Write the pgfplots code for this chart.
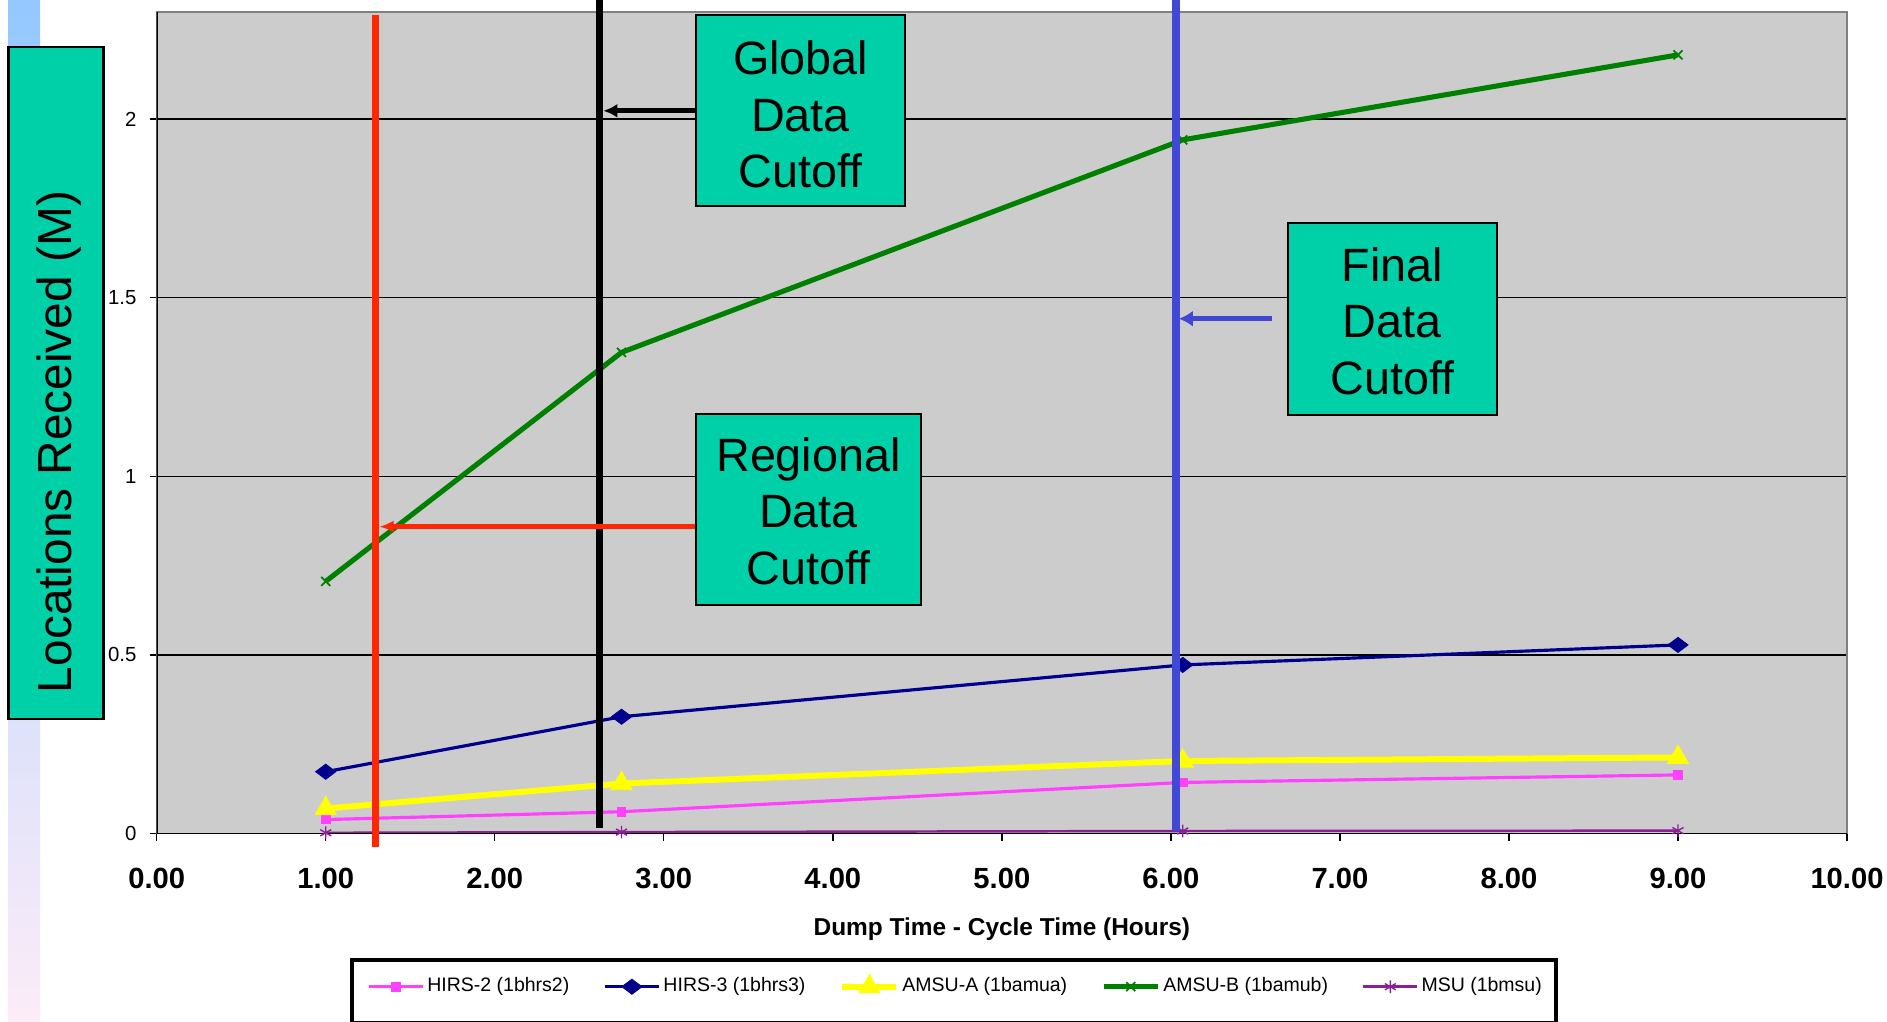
\documentclass[border=0pt]{standalone}
\usepackage{pgfplots}
\pgfplotsset{compat=1.18}
\usepackage{fontspec}
\setmainfont{Liberation Sans}
\usetikzlibrary{arrows.meta}
\definecolor{boxteal}{RGB}{0,208,168}
\definecolor{hirstwo}{RGB}{255,64,255}
\definecolor{hirsthree}{RGB}{0,0,140}
\definecolor{amsua}{RGB}{255,255,0}
\definecolor{amsub}{RGB}{0,128,0}
\definecolor{msu}{RGB}{140,30,150}
\definecolor{plotbg}{RGB}{204,204,204}
\definecolor{cutred}{RGB}{255,38,0}
\definecolor{cutblue}{RGB}{66,72,214}
\definecolor{striptop}{RGB}{148,200,255}
\definecolor{stripbot}{RGB}{252,236,248}
\begin{document}
\begin{tikzpicture}
\begin{scope}[x=0.1mm,y=-0.1mm]
\shade[top color=striptop,bottom color=stripbot] (8,0) rectangle (40,1021);
\draw[fill=boxteal,line width=0.75pt] (8.4,47) rectangle (103.8,719);
\end{scope}
\begin{axis}[
  at={(15.67mm,-83.35mm)}, anchor=south west,
  scale only axis, width=169.03mm, height=82.15mm,
  xmin=0, xmax=10, ymin=0, ymax=2.3,
  axis background/.style={fill=plotbg},
  axis line style={draw=gray, line width=0.5pt},
  ymajorgrids, grid style={black, line width=0.4pt},
  xtick={0,1,...,10}, ytick={0,0.5,1,1.5,2}, yticklabels={0,0.5,1,1.5,2},
  xtick pos=bottom, ytick pos=left,
  tick align=outside, major tick length=0.7mm, tick style={black, line width=0.4pt},
  /pgf/number format/assume math mode=true,
  xticklabel style={font=\fontsize{8.3}{10}\selectfont\bfseries, inner sep=0pt, anchor=north, yshift=-2.67mm,
     /pgf/number format/.cd, fixed, fixed zerofill, precision=2},
  yticklabel style={font=\fontsize{5.8}{7}\selectfont, inner sep=0pt, anchor=east, xshift=-1.26mm},
  xlabel={Dump Time - Cycle Time (Hours)},
  xlabel style={at={(axis description cs:0.5,0)}, anchor=center, yshift=-9.6mm, font=\fontsize{6.95}{8.3}\selectfont\bfseries},
  ylabel={Locations Received (M)},
  ylabel style={at={(axis description cs:-0.0578,0.4766)}, anchor=center, font=\fontsize{13.6}{16}\selectfont},
  legend style={at={(axis description cs:0.1241,-0.1865)}, anchor=west, draw=none, fill=none,
     font=\fontsize{5.55}{6.7}\selectfont, inner sep=0pt, nodes={inner sep=0.3mm},
     /tikz/every even column/.append style={column sep=3.1mm}},
  legend columns=5, legend cell align=left,
  legend image code/.code={\draw[mark repeat=2,mark phase=2,#1] plot coordinates {(0mm,0mm)(2.7mm,0mm)(5.4mm,0mm)};},
]
\addplot[color=hirstwo, line width=0.9pt, mark=square*, mark size=1.2pt, mark options={line width=0.2pt}] coordinates {(1,0.039) (2.75,0.061) (6.07,0.143) (9,0.164)};
\addlegendentry{HIRS-2 (1bhrs2)}
\addplot[color=hirsthree, line width=0.9pt, mark=diamond*, mark size=2.9pt, mark options={rotate=90, line width=0.2pt}] coordinates {(1,0.173) (2.75,0.327) (6.07,0.472) (9,0.528)};
\addlegendentry{HIRS-3 (1bhrs3)}
\addplot[color=amsua, line width=1.7pt, mark=triangle*, mark size=3.5pt, mark options={line width=0.2pt}] coordinates {(1,0.070) (2.75,0.140) (6.07,0.203) (9,0.213)};
\addlegendentry{AMSU-A (1bamua)}
\addplot[color=amsub, line width=1.45pt, mark=x, mark size=1.8pt, mark options={line width=0.5pt}] coordinates {(1,0.706) (2.75,1.347) (6.07,1.942) (9,2.180)};
\addlegendentry{AMSU-B (1bamub)}
\addplot[color=msu, line width=0.7pt, mark=asterisk, mark size=1.8pt, mark options={line width=0.4pt}] coordinates {(1,0.002) (2.75,0.004) (6.07,0.007) (9,0.008)};
\addlegendentry{MSU (1bmsu)}
\draw[black, line width=0.5pt] (rel axis cs:0,0) -- (rel axis cs:0,1);
\draw[black, line width=0.5pt] (rel axis cs:0,0) -- (rel axis cs:1,0);
\end{axis}
\begin{scope}[x=0.1mm,y=-0.1mm]
\draw[line width=1.13pt] (352,960) rectangle (1556,1023);
\draw[cutred, line width=2.1pt] (375.8,15.3) -- (375.8,847);
\draw[black, line width=2.1pt] (599.7,0) -- (599.7,828);
\draw[cutblue, line width=2.2pt] (1175.8,0) -- (1175.8,830.6);
\draw[black, line width=1.5pt, -{Latex[length=1.4mm,width=1.4mm]}] (696,110.8) -- (603.4,110.8);
\draw[cutred, line width=1.25pt, -{Latex[length=1.4mm,width=1.2mm]}] (696,526.6) -- (379.5,526.6);
\draw[cutblue, line width=1.5pt, -{Latex[length=1.4mm,width=1.6mm]}] (1272.2,318.7) -- (1178.8,318.7);
\draw[fill=boxteal, line width=0.6pt] (696,15.3) rectangle (905.3,206);
\node[align=center, font=\fontsize{13.3}{16.1}\selectfont, inner sep=0pt] at (800.6,114.3) {Global\\Data\\Cutoff};
\draw[fill=boxteal, line width=0.6pt] (696,413.7) rectangle (921,605);
\node[align=center, font=\fontsize{13.3}{16.1}\selectfont, inner sep=0pt] at (808.5,511) {Regional\\Data\\Cutoff};
\draw[fill=boxteal, line width=0.6pt] (1287.8,222.7) rectangle (1496.6,415.2);
\node[align=center, font=\fontsize{13.3}{16.1}\selectfont, inner sep=0pt] at (1392.2,321) {Final\\Data\\Cutoff};
\pgfresetboundingbox
\useasboundingbox (0,0) rectangle (1887,1021);
\end{scope}
\end{tikzpicture}
\end{document}
